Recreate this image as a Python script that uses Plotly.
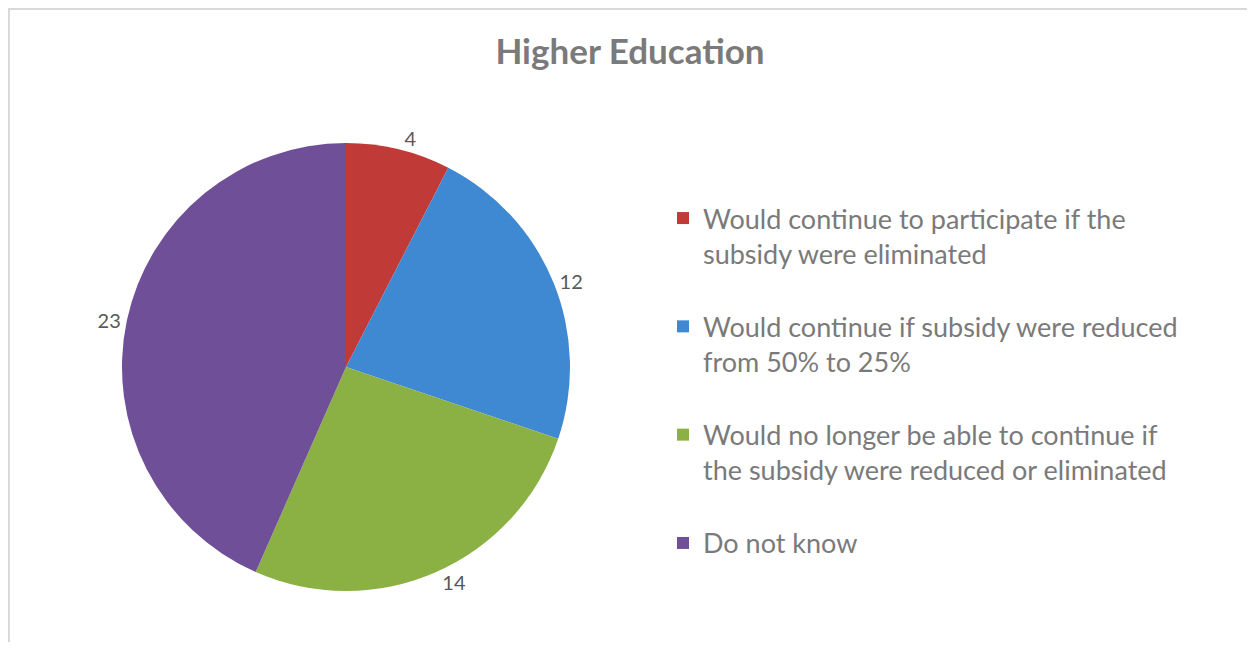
import plotly.graph_objects as go

categories = [
    "Would continue to participate if the<br>subsidy were eliminated<br> ",
    "Would continue if subsidy were reduced<br>from 50% to 25%<br> ",
    "Would no longer be able to continue if<br>the subsidy were reduced or eliminated<br> ",
    "Do not know",
]
values = [4, 12, 14, 23]
colors = ["#c03a37", "#3f88d2", "#8bb044", "#6f4f97"]

OFF = 8  # page body margin
W, H = 1239, 634


def px(x):
    return (x - OFF) / W


def py(y):
    return 1 - (y - OFF) / H


cx, cy, r = 346, 367, 224

fig = go.Figure(go.Pie(
    labels=categories,
    values=values,
    sort=False,
    direction="clockwise",
    rotation=0,
    marker=dict(colors=colors, line=dict(color="white", width=0)),
    textinfo="value",
    textposition="outside",
    textfont=dict(family="Lato", size=20, color="#595959"),
    domain=dict(x=[px(cx - r), px(cx + r)], y=[py(cy + r), py(cy - r)]),
    hoverinfo="label+value",
))

fig.update_layout(
    width=W, height=H,
    margin=dict(l=0, r=0, t=0, b=0),
    paper_bgcolor="white",
    plot_bgcolor="white",
    title=dict(text="<b>Higher Education</b>", x=px(630), xanchor="center", y=py(52), yanchor="middle",
               font=dict(family="Lato", size=35, color="#7a7a7a")),
    legend=dict(x=px(663), xanchor="left", y=py(194), yanchor="top", valign="top",
                font=dict(family="Lato", size=27, color="#7a7a7a"),
                itemwidth=30, bgcolor="rgba(0,0,0,0)"),
    shapes=[dict(type="rect", xref="paper", yref="paper", x0=1 / W, x1=px(1248), y0=-0.1, y1=py(9),
                 line=dict(color="#d9d9d9", width=2), fillcolor="rgba(0,0,0,0)", layer="below")],
)

fig.write_html("out.html")
